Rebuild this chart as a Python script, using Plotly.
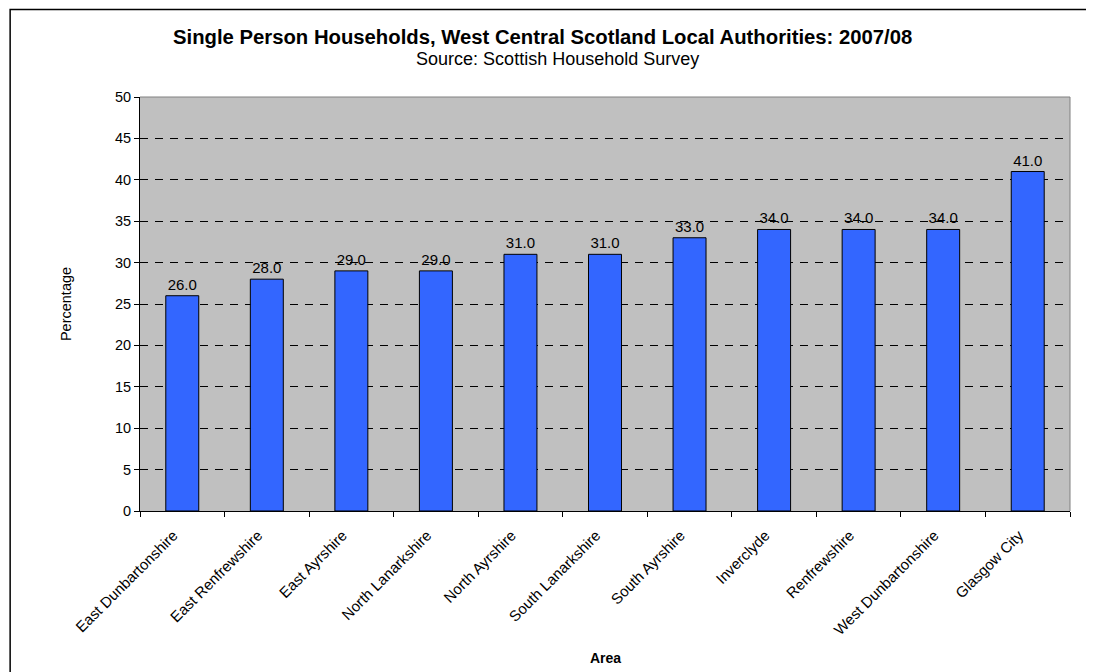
import plotly.graph_objects as go

areas = ["East Dunbartonshire", "East Renfrewshire", "East Ayrshire", "North Lanarkshire",
         "North Ayrshire", "South Lanarkshire", "South Ayrshire", "Inverclyde",
         "Renfrewshire", "West Dunbartonshire", "Glasgow City"]
values = [26.0, 28.0, 29.0, 29.0, 31.0, 31.0, 33.0, 34.0, 34.0, 34.0, 41.0]
y_ticks = [0, 5, 10, 15, 20, 25, 30, 35, 40, 45, 50]

FONT = "Liberation Sans, Arial, sans-serif"
NB = "\u00a0"

# page has an 8px body margin; figure coords = reference coords - 8
W, H = 1086, 664
L, T = 131.5, 89
pw, ph = 931, 414
R = W - L - pw
B = H - T - ph


def px_x(x):
    return (x - L) / pw


def px_y(y):
    return (T + ph - y) / ph


fig = go.Figure()
fig.add_trace(go.Bar(
    x=areas, y=values,
    marker=dict(color="#3366FF", line=dict(color="#000000", width=1)),
    text=[f"{v:.1f}" for v in values], textposition="outside",
    textfont=dict(family=FONT, size=15, color="#000000"),
    cliponaxis=False, width=0.39,
))

fig.update_layout(
    width=W, height=H,
    margin=dict(l=L, r=R, t=T, b=B),
    paper_bgcolor="white", plot_bgcolor="#C0C0C0",
    showlegend=False,
    font=dict(family=FONT, size=14, color="#000000"),
    xaxis=dict(
        tickangle=-45, ticks="outside", tickson="boundaries", ticklen=5,
        tickcolor="#000000", showline=True, linecolor="#000000", linewidth=1,
        showgrid=False, tickfont=dict(family=FONT, size=15),
        tickmode="array", tickvals=areas, ticktext=[a + NB * 3 for a in areas],
    ),
    yaxis=dict(
        range=[0, 50], tickvals=y_ticks, ticks="outside", ticklen=5,
        tickcolor="#000000", showline=True, linecolor="#000000", linewidth=1,
        showgrid=True, gridcolor="#000000", griddash="8px,7px", gridwidth=1,
        zeroline=False, tickfont=dict(family=FONT, size=14.5),
    ),
    annotations=[
        dict(text="<span style='font-size:20.3px'><b>Single Person Households, West Central Scotland "
                  "Local Authorities: 2007/08</b></span><br>"
                  "<span style='font-size:18px'>" + NB * 6 + "Source: Scottish Household Survey</span>",
             xref="paper", yref="paper", x=px_x(534), y=px_y(16),
             xanchor="center", yanchor="top", align="center", showarrow=False,
             font=dict(family=FONT, size=16.2, color="#000000")),
        dict(text="Percentage", textangle=-90,
             xref="paper", yref="paper", x=px_x(57.5), y=0.5,
             xanchor="center", yanchor="middle", showarrow=False,
             font=dict(family=FONT, size=14.5, color="#000000")),
        dict(text="<b>Area</b>",
             xref="paper", yref="paper", x=0.5, y=px_y(650),
             xanchor="center", yanchor="middle", showarrow=False,
             font=dict(family=FONT, size=14, color="#000000")),
    ],
    shapes=[
        dict(type="line", xref="paper", yref="paper", x0=0, x1=1, y0=1, y1=1,
             line=dict(color="#808080", width=1)),
        dict(type="line", xref="paper", yref="paper", x0=1, x1=1, y0=0, y1=1,
             line=dict(color="#808080", width=1)),
        # outer chart frame
        dict(type="rect", xref="paper", yref="paper",
             x0=px_x(1.5), x1=px_x(W + 20),
             y0=px_y(H + 20), y1=px_y(1.5),
             line=dict(color="#000000", width=1.5), fillcolor="rgba(0,0,0,0)"),
    ],
)

fig.write_html("out.html")
